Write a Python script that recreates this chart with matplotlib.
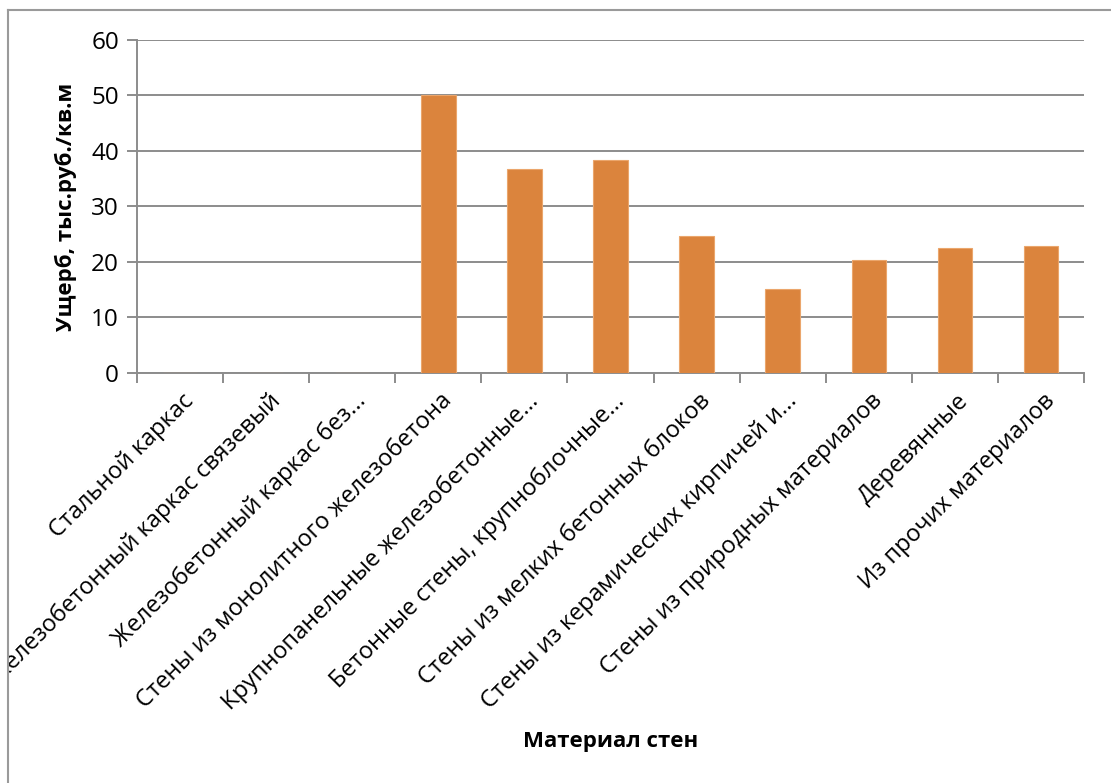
import matplotlib
matplotlib.use("Agg")
import matplotlib.pyplot as plt
from matplotlib.lines import Line2D
from matplotlib.transforms import Bbox, TransformedBbox

plt.rcParams['font.family'] = ['Open Sans', 'DejaVu Sans']

# data
categories = [
    "Стальной каркас",
    "Железобетонный каркас связевый",
    "Железобетонный каркас без...",
    "Стены из монолитного железобетона",
    "Крупнопанельные железобетонные...",
    "Бетонные стены, крупноблочные...",
    "Стены из мелких бетонных блоков",
    "Стены из керамических кирпичей и...",
    "Стены из природных материалов",
    "Деревянные",
    "Из прочих материалов",
]
damage = [0, 0, 0, 50.0, 36.7, 38.3, 24.7, 15.1, 20.3, 22.6, 22.8]
y_ticks = [0, 10, 20, 30, 40, 50, 60]

W, H = 1111, 783
fig = plt.figure(figsize=(W / 100, H / 100), dpi=100)
ax = fig.add_axes([137 / W, 1 - 373 / H, (1084 - 137) / W, (373 - 40) / H])

grid_c = "#8c8c8c"
x = list(range(len(categories)))
ax.bar(x, damage, width=0.4, color="#DB843D", edgecolor="#EBA66C", linewidth=0.8, zorder=3)

ax.set_xlim(-0.5, len(categories) - 0.5)
ax.set_ylim(0, 60)
ax.set_yticks(y_ticks)
ax.yaxis.grid(True, color=grid_c, lw=1.4, zorder=0)
ax.set_axisbelow(True)

for s in ("top", "right"):
    ax.spines[s].set_visible(False)
for s in ("left", "bottom"):
    ax.spines[s].set_color(grid_c)
    ax.spines[s].set_linewidth(1.4)

# category separators as ticks
ax.set_xticks([i - 0.5 for i in range(len(categories) + 1)])
ax.set_xticklabels([])
ax.tick_params(axis="x", length=7, width=1.4, color=grid_c)
ax.tick_params(axis="y", length=7, width=1.4, color=grid_c, labelsize=17.5, pad=6)

# the reference cuts the long label at the chart-area border
clip = TransformedBbox(Bbox([[8 / W, 0], [1, 1 - 10 / H]]), fig.transFigure)
for i, lab in enumerate(categories):
    t = ax.annotate(lab, xy=(i, 0), xycoords=("data", "axes fraction"),
                    xytext=(2, -16), textcoords="offset pixels",
                    rotation=45, ha="right", va="top", rotation_mode="anchor",
                    fontsize=17)
    t.set_clip_on(True)
    t.set_clip_box(clip)

ax.set_ylabel("Ущерб, тыс.руб./кв.м", fontsize=16, fontweight="bold", labelpad=10)
fig.text(611 / W, 1 - 742 / H, "Материал стен", fontsize=16, fontweight="bold",
         ha="center", va="center")

# chart area border (left and top edges visible)
fig.add_artist(Line2D([8 / W, 8 / W], [0, 1 - 10 / H], transform=fig.transFigure,
                      color="#9a9a9a", lw=1.5))
fig.add_artist(Line2D([8 / W, 1], [1 - 10 / H, 1 - 10 / H], transform=fig.transFigure,
                      color="#9a9a9a", lw=1.5))

fig.savefig("out.png", dpi=100)
